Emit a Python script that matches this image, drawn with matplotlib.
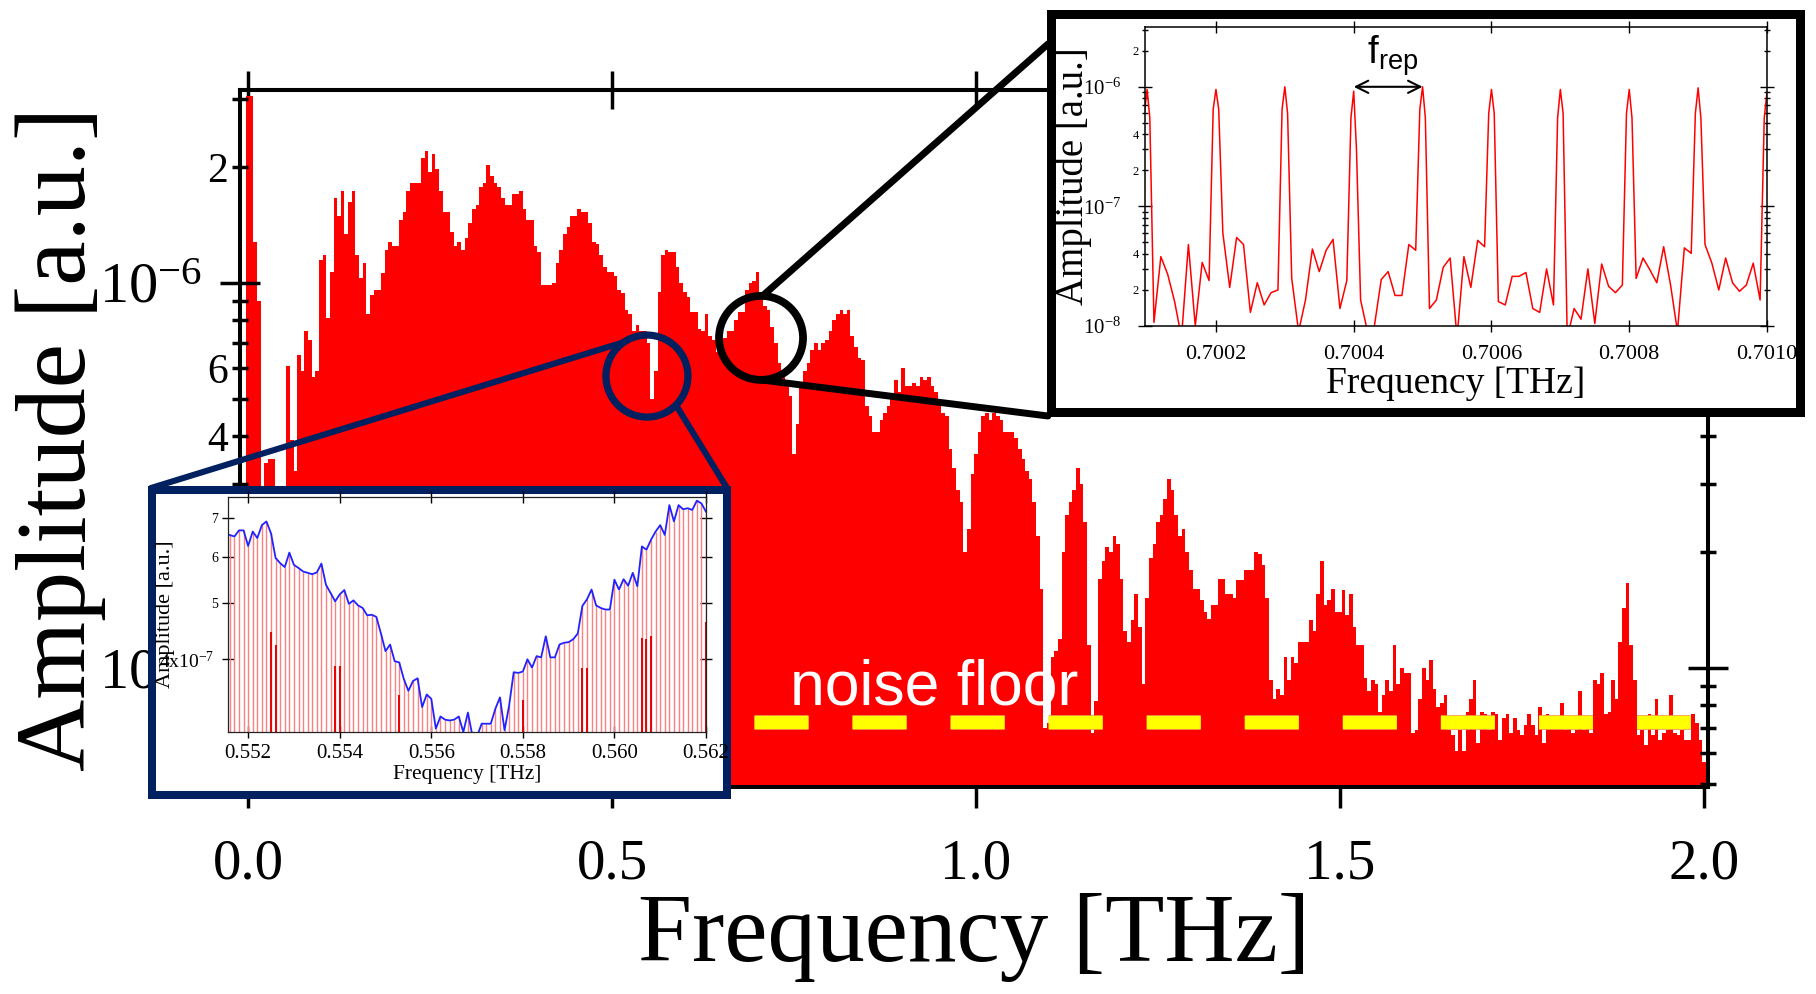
import numpy as np
import matplotlib
matplotlib.use("Agg")
import matplotlib.pyplot as plt
import matplotlib.patheffects as pe
from matplotlib.patches import Circle
from matplotlib.ticker import (FixedLocator, FixedFormatter, FuncFormatter,
                               LogLocator, NullLocator)

plt.rcParams["font.family"] = "Liberation Serif"
plt.rcParams["mathtext.fontset"] = "custom"
plt.rcParams["mathtext.rm"] = "Liberation Serif"
plt.rcParams["mathtext.sf"] = "Liberation Sans"
plt.rcParams["lines.scale_dashes"] = False

# ---------------------------------------------------------------------------
# Broadband spectrum: 5 GHz bins from 0 to 2 THz, amplitude in units of 1e-7
bin_width = 0.005
amp_0_05 = [
    30.6, 30.6, 12.8, 9.0, 1.0, 3.4, 3.5, 3.5, 1.0, 1.0,
    1.0, 6.1, 3.9, 3.25, 6.5, 5.9, 7.5, 7.1, 5.7, 5.9,
    11.5, 11.8, 8.1, 10.7, 16.6, 14.9, 17.3, 13.4, 16.2, 17.3,
    11.8, 10.3, 11.3, 8.3, 9.3, 9.6, 9.6, 10.6, 12.2, 12.8,
    12.5, 12.5, 14.6, 15.3, 17.3, 18.2, 18.2, 18.2, 21.1, 22.0,
    19.4, 21.6, 19.8, 17.3, 15.3, 15.3, 13.6, 12.5, 12.8, 12.2,
    13.1, 14.3, 15.6, 15.9, 17.7, 18.2, 20.2, 19.0, 18.2, 17.7,
    16.6, 15.9, 15.9, 17.0, 17.0, 17.3, 15.6, 14.6, 14.6, 12.5,
    12.0, 9.9, 9.9, 9.9, 10.0, 11.3, 12.2, 13.4, 14.0, 14.9,
    14.9, 15.6, 15.3, 15.3, 14.3, 12.8, 12.6, 11.8, 11.0, 10.7,
]
amp_05_10 = [
    10.7, 10.4, 9.6, 9.4, 8.5, 8.3, 7.5, 7.8, 7.5, 7.5,
    7.0, 5.0, 5.9, 9.5, 11.8, 12.2, 12.0, 12.0, 11.0, 10.0,
    9.5, 9.2, 8.4, 8.4, 7.6, 7.5, 8.3, 7.3, 7.1, 6.6,
    6.8, 7.2, 7.5, 7.5, 8.0, 8.4, 8.4, 9.6, 10.0, 10.1,
    10.7, 9.4, 8.7, 8.5, 7.7, 7.0, 6.2, 5.8, 5.5, 5.1,
    3.6, 4.3, 5.4, 5.9, 6.2, 6.7, 7.0, 6.7, 7.0, 7.1,
    7.5, 8.0, 8.3, 8.5, 8.3, 8.5, 7.3, 6.8, 6.4, 6.3,
    4.8, 4.5, 4.1, 4.1, 4.4, 4.6, 4.8, 5.0, 5.6, 5.2,
    6.0, 5.4, 5.4, 5.5, 5.4, 5.7, 5.6, 5.7, 5.4, 5.2,
    4.9, 4.6, 4.5, 3.7, 3.3, 2.9, 2.7, 2.0, 2.3, 3.2,
]
amp_10_15 = [
    3.6, 4.1, 4.5, 4.6, 4.4, 4.6, 4.5, 4.4, 4.1, 4.1,
    4.1, 3.95, 3.7, 3.5, 3.25, 3.1, 2.7, 2.2, 1.6, 0.70,
    0.72, 1.07, 1.11, 1.19, 2.0, 2.5, 2.7, 2.9, 3.3, 3.0,
    2.4, 1.15, 0.68, 0.82, 1.7, 1.9, 2.06, 2.0, 2.2, 2.1,
    1.7, 1.25, 1.17, 1.33, 1.56, 1.28, 0.91, 1.52, 1.93, 2.1,
    2.4, 2.5, 2.75, 3.1, 2.9, 2.5, 2.2, 2.3, 2.0, 1.8,
    1.6, 1.6, 1.5, 1.4, 1.34, 1.46, 1.46, 1.7, 1.7, 1.56,
    1.56, 1.52, 1.69, 1.69, 1.8, 1.8, 1.8, 2.0, 1.98, 1.85,
    1.52, 0.93, 0.83, 0.88, 0.85, 1.07, 0.93, 1.07, 1.03, 1.17,
    1.17, 1.17, 1.33, 1.25, 1.56, 1.9, 1.46, 1.5, 1.6, 1.4,
]
amp_15_20 = [
    1.4, 1.59, 1.37, 1.56, 1.28, 1.15, 1.15, 0.94, 0.87, 0.93,
    0.91, 0.77, 0.85, 0.93, 0.87, 1.15, 0.91, 1.0, 0.97, 0.97,
    0.68, 0.69, 0.83, 1.0, 0.93, 1.05, 0.88, 0.79, 0.81, 0.85,
    0.69, 0.67, 0.61, 0.69, 0.61, 0.77, 0.83, 0.93, 0.64, 0.77,
    0.76, 0.69, 0.77, 0.76, 0.65, 0.74, 0.76, 0.68, 0.74, 0.69,
    0.67, 0.71, 0.76, 0.71, 0.67, 0.79, 0.64, 0.76, 0.73, 0.72,
    0.74, 0.81, 0.69, 0.70, 0.68, 0.69, 0.87, 0.69, 0.70, 0.68,
    0.93, 0.91, 0.97, 0.76, 0.77, 0.93, 0.83, 1.17, 1.43, 1.66,
    1.15, 0.93, 0.67, 0.69, 0.63, 0.76, 0.67, 0.83, 0.65, 0.68,
    0.69, 0.85, 0.68, 0.67, 0.69, 0.65, 0.65, 0.76, 0.72, 0.65,
    0.57,
]
noise_floor = 7.24e-8
noise_span = (0.695, 1.981)
main_xticks = [0.0, 0.5, 1.0, 1.5, 2.0]

# Comb lines around 0.7 THz (peaks in 1e-7, background in 1e-8)
comb_freq = [0.7001, 0.7002, 0.7003, 0.7004, 0.7005,
             0.7006, 0.7007, 0.7008, 0.7009, 0.7010]
comb_peak = [9.5, 9.5, 10.0, 9.2, 10.0, 9.5, 9.5, 9.5, 9.8, 9.0]
comb_left = [6.0, 6.5, 6.5, 5.5, 6.5, 6.0, 5.5, 6.0, 6.0, 5.5]
comb_right = [5.5, 6.5, 6.0, 3.0, 5.5, 6.0, 6.0, 5.5, 5.5, 6.0]
comb_gap_noise = [
    [1.07, 3.8, 2.7, 1.6, 0.8, 4.8, 1.0, 3.4, 2.4],
    [6.0, 2.1, 5.5, 4.8, 1.3, 2.3, 1.5, 1.9, 2.0],
    [2.5, 0.9, 1.65, 4.4, 2.85, 4.3, 5.3, 1.4, 2.4],
    [1.65, 0.9, 1.0, 2.45, 2.85, 1.8, 1.8, 4.8, 4.3],
    [1.4, 1.65, 3.1, 3.7, 0.8, 3.8, 2.1, 5.2, 4.6],
    [1.6, 1.5, 2.6, 2.6, 2.8, 1.4, 1.3, 3.0, 1.5],
    [0.8, 1.4, 1.14, 3.0, 1.05, 3.3, 2.15, 1.9, 2.2],
    [2.5, 3.7, 2.95, 2.3, 4.6, 2.2, 0.9, 4.5, 4.05],
    [4.8, 3.35, 2.0, 3.7, 2.3, 1.95, 2.2, 3.35, 1.65],
]
comb_xticks = [0.7002, 0.7004, 0.7006, 0.7008, 0.7010]

# Comb lines across the dip near 0.557 THz, 100 MHz spacing, in 1e-7
dip_start, dip_step = 0.5516, 0.0001
dip_env = [
    6.54, 6.50, 6.66, 6.66, 6.26, 6.63, 6.46, 6.80, 6.90, 6.58,
    5.97, 5.85, 5.76, 6.10, 5.81, 5.74, 5.66, 5.63, 5.60, 5.64,
    5.84, 5.37, 5.20, 5.03, 5.17, 5.26, 4.98, 5.05, 4.95, 4.90,
    4.76, 4.77, 4.73, 4.43, 4.13, 4.24, 3.97, 3.95, 3.70, 3.53,
    3.67, 3.71, 3.31, 3.48, 3.42, 3.04, 3.19, 3.15, 3.14, 3.15,
    3.19, 3.00, 3.24, 2.95, 2.95, 3.10, 3.10, 3.10, 3.29, 3.44,
    3.02, 3.33, 3.80, 3.79, 3.81, 4.00, 3.87, 4.05, 4.03, 4.38,
    4.03, 4.03, 4.24, 4.27, 4.28, 4.33, 4.43, 4.94, 5.07, 5.27,
    4.95, 4.90, 4.87, 4.87, 5.48, 5.27, 5.49, 5.35, 5.63, 5.34,
    6.25, 6.17, 6.42, 6.63, 6.80, 6.54, 7.36, 6.90, 7.36, 7.24,
    7.27, 7.22, 7.49, 7.41, 7.17,
]
dip_dark_freq = [0.5525, 0.5526, 0.5539, 0.5540, 0.5553, 0.5580,
                 0.5593, 0.5594, 0.5606, 0.5607, 0.5608, 0.5620]
dip_dark_amp = [4.45, 4.24, 3.90, 3.90, 3.47, 3.41,
                3.87, 3.87, 4.35, 4.33, 4.38, 4.63]
dip_xticks = [0.552, 0.554, 0.556, 0.558, 0.560, 0.562]

# ---------------------------------------------------------------------------
W, H = 1816, 994
NAVY = "#002060"


def fig_rect(x0, y0, x1, y1):
    """Pixel box (top-left origin) -> figure fraction rect."""
    return [x0 / W, 1 - y1 / H, (x1 - x0) / W, (y1 - y0) / H]


def decade_fmt(v, pos):
    return r"$\mathregular{10^{%d}}$" % int(round(np.log10(v)))


def mantissa_fmt(keep, vmin=0.0):
    def fmt(v, pos):
        if v < vmin:
            return ""
        m = int(round(v / 10 ** np.floor(np.log10(v) + 1e-9)))
        return str(m) if m in keep else ""
    return FuncFormatter(fmt)


fig = plt.figure(figsize=(W / 100, H / 100), dpi=100)

# --- main spectrum ---------------------------------------------------------
ax = fig.add_axes(fig_rect(240, 90, 1708, 787))
amp = np.concatenate([amp_0_05, amp_05_10, amp_10_15, amp_15_20]) * 1e-7
edges = (np.arange(len(amp) + 1) - 0.5) * bin_width
ax.stairs(amp, edges, baseline=1e-9, fill=True, color="#ff0000", lw=0)
ax.set_yscale("log")
ax.set_xlim(-0.011, 2.0055)
ax.set_ylim(4.91e-8, 3.17e-6)

ax.plot(noise_span, [noise_floor, noise_floor], color="#ffff00", lw=9.4,
        dashes=(38.9, 31.7), dash_capstyle="butt",
        path_effects=[pe.Stroke(linewidth=10.6, foreground="#f0a040"),
                      pe.Normal()])
ax.text(0.745, 8.06e-8, "noise floor", color="white", fontsize=45,
        family="Liberation Sans", ha="left", va="baseline")

for s in ax.spines.values():
    s.set_linewidth(2.9)
ax.set_xticks(main_xticks)
ax.set_xticklabels([f"{v:.1f}" for v in main_xticks])
ax.tick_params(axis="x", which="major", direction="out", length=15,
               width=2.5, labelsize=41, pad=22)
top = ax.secondary_xaxis("top")
top.set_xticks(main_xticks)
top.set_xticklabels([])
top.tick_params(direction="inout", length=27, width=2.5)
top.spines["top"].set_linewidth(2.9)

ax.yaxis.set_major_locator(FixedLocator([1e-8, 1e-7, 1e-6]))
ax.yaxis.set_major_formatter(FuncFormatter(decade_fmt))
ax.yaxis.set_minor_locator(LogLocator(base=10, subs=np.arange(2, 10),
                                      numticks=30))
ax.yaxis.set_minor_formatter(mantissa_fmt((2, 4, 6), vmin=3e-7))
ax.tick_params(axis="y", which="both", direction="inout", left=True,
               right=True, width=2.5)
ax.tick_params(axis="y", which="major", length=29, labelsize=42, pad=13)
ax.tick_params(axis="y", which="minor", length=11, labelsize=30, pad=3)

ax.set_xlabel("Frequency [THz]", fontsize=70, labelpad=2)
ax.set_ylabel("Amplitude [a.u.]", fontsize=72)
ax.yaxis.set_label_coords(-0.0913, 0.5)

# --- zoom markers and connectors ------------------------------------------
ov = fig.add_axes([0, 0, 1, 1], zorder=2)
ov.set_xlim(0, W)
ov.set_ylim(H, 0)
ov.set_facecolor("none")
ov.axis("off")


def to_px(a, x, y):
    X, Y = a.transData.transform((x, y))
    return X, H - Y


def on_ring(c, r, deg):
    t = np.deg2rad(deg)
    return c[0] + r * np.cos(t), c[1] + r * np.sin(t)


dip_frame = (148, 486, 731, 799)
comb_frame = (1046, 9, 1804, 416)
blue_c, blue_r = to_px(ax, 0.548, 5.73e-7), 41
black_c, black_r = to_px(ax, 0.7047, 7.2e-7), 42

for p0, p1 in [(on_ring(blue_c, blue_r, -124), (dip_frame[0] + 3, dip_frame[1] + 2)),
               (on_ring(blue_c, blue_r, 45), (dip_frame[2] - 4, dip_frame[1] + 2))]:
    ov.plot([p0[0], p1[0]], [p0[1], p1[1]], color=NAVY, lw=4.4,
            solid_capstyle="round")
for p0, p1 in [(on_ring(black_c, black_r, -88), (comb_frame[0] + 2, 44)),
               (on_ring(black_c, black_r, 90), (comb_frame[0] + 2, comb_frame[3]))]:
    ov.plot([p0[0], p1[0]], [p0[1], p1[1]], color="black", lw=5,
            solid_capstyle="round")
ov.add_patch(Circle(blue_c, blue_r, fill=False, ec=NAVY, lw=5.2))
ov.add_patch(Circle(black_c, black_r, fill=False, ec="black", lw=5.6))


def frame(box, color, lw_px):
    h = lw_px / 2
    p = fig.add_axes(fig_rect(box[0] + h, box[1] + h, box[2] - h, box[3] - h),
                     zorder=3)
    p.set_xticks([])
    p.set_yticks([])
    p.set_facecolor("white")
    for s in p.spines.values():
        s.set_linewidth(lw_px * 0.72)
        s.set_color(color)
        s.set_joinstyle("round")
    return p


frame(comb_frame, "black", 9)
frame(dip_frame, NAVY, 8)

# --- inset: comb lines near 0.7 THz ----------------------------------------
ins1 = fig.add_axes(fig_rect(1145, 27, 1767, 326), zorder=4)
cx, cy = [], []
for i, fp in enumerate(comb_freq):
    cx += [fp - 4e-6, fp, fp + 4e-6]
    cy += [comb_left[i] * 1e-7, comb_peak[i] * 1e-7, comb_right[i] * 1e-7]
    if i < len(comb_gap_noise):
        cx += [fp + 1e-5 * (j + 1) for j in range(9)]
        cy += [v * 1e-8 for v in comb_gap_noise[i]]
ins1.plot(cx, cy, color="#ff0000", lw=1.1)
ins1.set_yscale("log")
ins1.set_xlim(0.700097, 0.70100)
ins1.set_ylim(1e-8, 10 ** -5.5)
ins1.set_xticks(comb_xticks)
ins1.set_xticklabels([f"{v:.4f}" for v in comb_xticks])
ins1.xaxis.set_minor_locator(NullLocator())
ins1.tick_params(axis="x", direction="inout", top=True, length=9, width=1,
                 labelsize=16, pad=9)
ins1.yaxis.set_major_locator(FixedLocator([1e-8, 1e-7, 1e-6]))
ins1.yaxis.set_major_formatter(FuncFormatter(decade_fmt))
ins1.yaxis.set_minor_locator(LogLocator(base=10, subs=np.arange(2, 10),
                                        numticks=30))
ins1.yaxis.set_minor_formatter(mantissa_fmt((2, 4)))
ins1.tick_params(axis="y", which="both", direction="inout", left=True,
                 right=True, width=1)
ins1.tick_params(axis="y", which="major", length=10, labelsize=15, pad=12)
ins1.tick_params(axis="y", which="minor", length=5, labelsize=9, pad=2)
for s in ins1.spines.values():
    s.set_linewidth(1.1)
ins1.set_xlabel("Frequency [THz]", fontsize=27, labelpad=2)
ins1.set_ylabel("Amplitude [a.u.]", fontsize=28)
ins1.yaxis.set_label_coords(-0.085, 0.5)
ins1.annotate("", xy=(comb_freq[3], 1e-6), xytext=(comb_freq[4], 1e-6),
              arrowprops=dict(arrowstyle="<->", lw=1.5, color="black",
                              shrinkA=0, shrinkB=0, mutation_scale=22))
ins1.text(0.700457, 1.81e-6, r"$\mathsf{f}_{\mathsf{rep}}$", fontsize=28,
          ha="center", va="center")

# --- inset: comb lines across the dip --------------------------------------
ins2 = fig.add_axes(fig_rect(228, 497, 706, 732), zorder=4)
dip_freq = dip_start + dip_step * np.arange(len(dip_env))
dip_amp = np.array(dip_env) * 1e-7
ins2.vlines(dip_freq, 1e-9, dip_amp, color="#ff8080", lw=1.0)
ins2.vlines(dip_dark_freq, 1e-9, np.array(dip_dark_amp) * 1e-7,
            color="#e80000", lw=1.4)
ins2.plot(dip_freq, dip_amp, color="#2222ff", lw=1.3)
ins2.set_yscale("log")
ins2.set_xlim(0.55156, 0.5620)
ins2.set_ylim(3.0e-7, 7.6e-7)
ins2.set_xticks(dip_xticks)
ins2.set_xticklabels([f"{v:.3f}" for v in dip_xticks])
ins2.xaxis.set_minor_locator(NullLocator())
ins2.tick_params(axis="x", direction="inout", top=True, length=8, width=1,
                 labelsize=15, pad=5)
ins2.yaxis.set_major_locator(FixedLocator([4e-7]))
ins2.yaxis.set_major_formatter(FixedFormatter([r"$\mathregular{4x10^{-7}}$"]))
ins2.yaxis.set_minor_locator(FixedLocator([5e-7, 6e-7, 7e-7]))
ins2.yaxis.set_minor_formatter(FixedFormatter(["5", "6", "7"]))
ins2.tick_params(axis="y", which="both", direction="inout", left=True,
                 right=True, width=1, length=8)
ins2.tick_params(axis="y", which="major", labelsize=14, pad=6)
ins2.tick_params(axis="y", which="minor", labelsize=10, pad=3)
for s in ins2.spines.values():
    s.set_linewidth(0.9)
    s.set_color("#222222")
ins2.set_xlabel("Frequency [THz]", fontsize=15.5, labelpad=1)
ins2.set_ylabel("Amplitude [a.u.]", fontsize=16)
ins2.yaxis.set_label_coords(-0.11, 0.5)

fig.savefig("out.png", dpi=100)
